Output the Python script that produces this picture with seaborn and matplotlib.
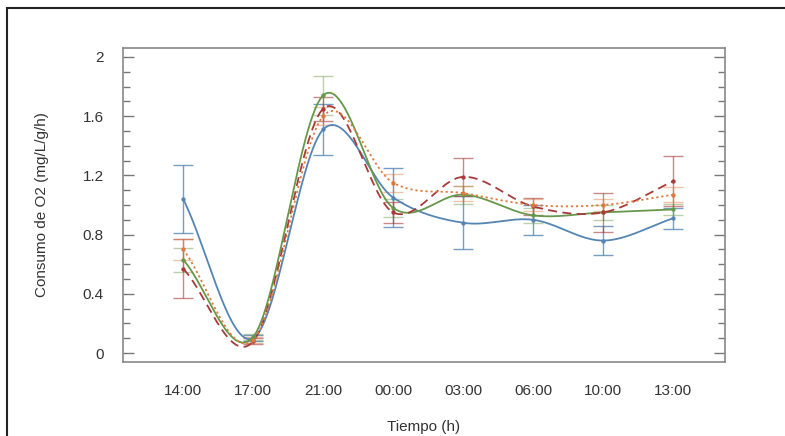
import numpy as np
import pandas as pd
import seaborn as sns
import matplotlib
matplotlib.use("Agg")
import matplotlib.pyplot as plt
from matplotlib.patches import Rectangle
from matplotlib.ticker import MultipleLocator

times = ["14:00", "17:00", "21:00", "00:00", "03:00", "06:00", "10:00", "13:00"]

blue_vals = [1.04, 0.10, 1.51, 1.05, 0.88, 0.90, 0.76, 0.91]
blue_err = [0.23, 0.02, 0.17, 0.20, 0.18, 0.10, 0.10, 0.07]
green_vals = [0.63, 0.11, 1.74, 0.98, 1.07, 0.93, 0.95, 0.97]
green_err = [0.08, 0.02, 0.13, 0.06, 0.06, 0.05, 0.05, 0.04]
red_vals = [0.57, 0.08, 1.65, 0.95, 1.19, 0.99, 0.95, 1.16]
red_err = [0.20, 0.02, 0.08, 0.07, 0.13, 0.06, 0.13, 0.17]
orange_vals = [0.70, 0.09, 1.60, 1.15, 1.08, 1.00, 1.00, 1.07]
orange_err = [0.07, 0.02, 0.06, 0.06, 0.05, 0.04, 0.04, 0.05]

series = [
    ("blue", blue_vals, blue_err, "#5585b3", "-", 0.8),
    ("green", green_vals, green_err, "#66984a", "-", 0.45),
    ("red", red_vals, red_err, "#a83a3a", (0, (5, 3)), 0.6),
    ("orange", orange_vals, orange_err, "#dc7a3c", (0, (1.2, 1.6)), 0.45),
]


def catmull_rom(y, per=60):
    y = np.asarray(y, float)
    n = len(y)
    m = np.empty(n)
    m[1:-1] = (y[2:] - y[:-2]) / 2
    m[0] = y[1] - y[0]
    m[-1] = y[-1] - y[-2]
    xs, ys = [], []
    for i in range(n - 1):
        t = np.linspace(0, 1, per, endpoint=(i == n - 2))
        h00 = 2 * t**3 - 3 * t**2 + 1
        h10 = t**3 - 2 * t**2 + t
        h01 = -2 * t**3 + 3 * t**2
        h11 = t**3 - t**2
        ys.append(h00 * y[i] + h10 * m[i] + h01 * y[i + 1] + h11 * m[i + 1])
        xs.append(i + t)
    return np.concatenate(xs), np.concatenate(ys)


sns.set_theme(style="white")
plt.rcParams["font.family"] = ["Liberation Sans", "DejaVu Sans"]

fig = plt.figure(figsize=(7.85, 4.36), dpi=100)
ax = fig.add_axes([123 / 785, 1 - 362 / 436, (725 - 123) / 785, (362 - 48) / 436])

xpos = np.arange(len(times))

for name, vals, err, col, ls, a in series:
    ax.errorbar(xpos, vals, yerr=err, fmt="none", ecolor=col, elinewidth=1.0,
                capsize=7, capthick=1.0, alpha=a, zorder=2)

for name, vals, err, col, ls, a in series:
    xf, yf = catmull_rom(vals)
    sns.lineplot(x=xf, y=yf, ax=ax, color=col, linewidth=1.3, linestyle=ls,
                 zorder=3, estimator=None, sort=False)
    sns.scatterplot(x=xpos, y=vals, ax=ax, color=col, s=8, edgecolor=col,
                    zorder=4, legend=False)

ax.set_xlim(-0.86, 7.74)
ax.set_ylim(-0.06, 2.06)
ax.set_xticks(xpos)
ax.set_xticklabels(times)
ax.set_yticks([0, 0.4, 0.8, 1.2, 1.6, 2.0])
ax.set_yticklabels(["0", "0.4", "0.8", "1.2", "1.6", "2"])
ax.yaxis.set_minor_locator(MultipleLocator(0.1))
ax.tick_params(axis="y", which="major", direction="in", length=8, width=1,
               color="#777777", left=True, right=True, labelsize=11,
               labelcolor="#333333", pad=14)
ax.tick_params(axis="y", which="minor", direction="in", length=5, width=1,
               color="#777777", left=True, right=True)
ax.tick_params(axis="x", which="both", bottom=False, top=False, labelsize=11,
               labelcolor="#333333", pad=10)
for sp in ax.spines.values():
    sp.set_color("#888888")
    sp.set_linewidth(1.2)

ax.set_xlabel("Tiempo (h)", fontsize=11, color="#333333", labelpad=16)
ax.set_ylabel("Consumo de O2 (mg/L/g/h)", fontsize=11, color="#333333", labelpad=24)

frame = Rectangle((7 / 785, -0.2), 1.2, 1 - 8 / 436 + 0.2, transform=fig.transFigure,
                  fill=False, edgecolor="#222222", linewidth=1.5)
fig.add_artist(frame)

fig.savefig("out.png", dpi=100)
